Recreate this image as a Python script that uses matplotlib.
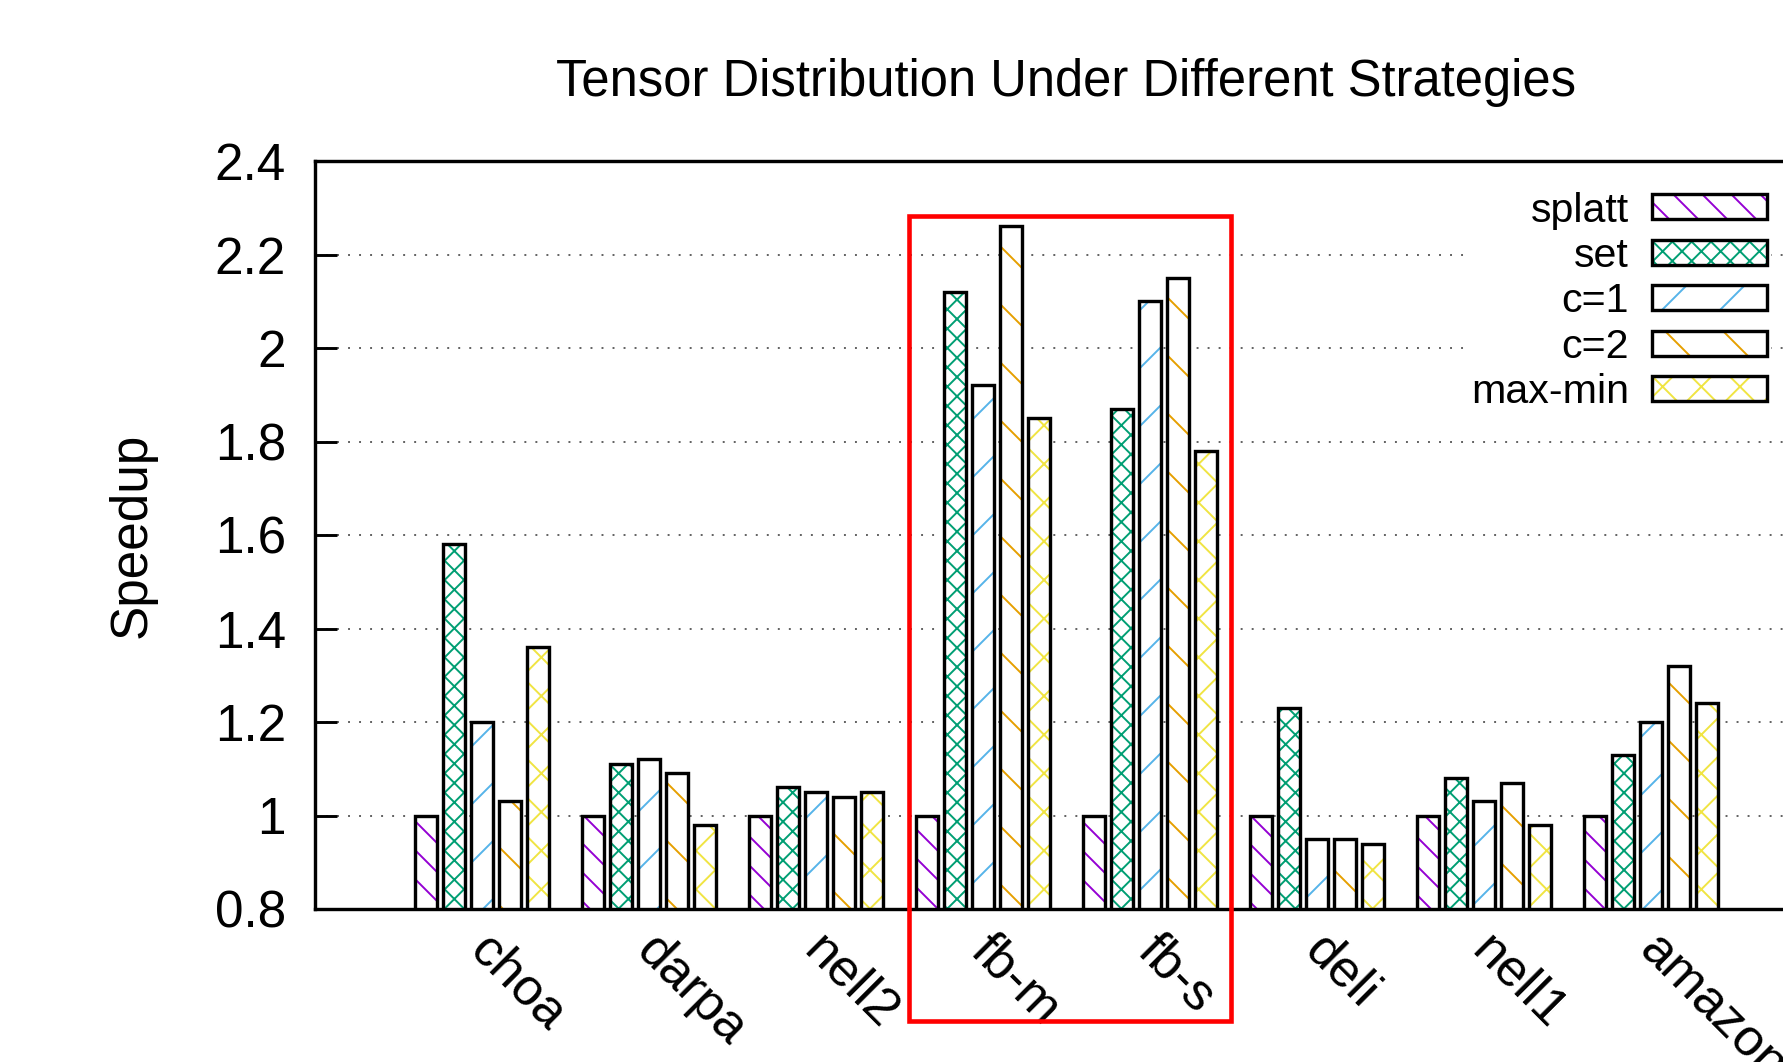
import matplotlib
matplotlib.use("Agg")
import matplotlib.pyplot as plt
import matplotlib.transforms as mtransforms
from matplotlib.patches import Rectangle
from matplotlib.legend_handler import HandlerTuple
import numpy as np

# ---- data -------------------------------------------------------------
datasets = ["choa", "darpa", "nell2", "fb-m", "fb-s", "deli", "nell1", "amazon"]
strategies = ["splatt", "set", "c=1", "c=2", "max-min"]

speedup_splatt = [1.00, 1.00, 1.00, 1.00, 1.00, 1.00, 1.00, 1.00]
speedup_set = [1.58, 1.11, 1.06, 2.12, 1.87, 1.23, 1.08, 1.13]
speedup_c1 = [1.20, 1.12, 1.05, 1.92, 2.10, 0.95, 1.03, 1.20]
speedup_c2 = [1.03, 1.09, 1.04, 2.26, 2.15, 0.95, 1.07, 1.32]
speedup_maxmin = [1.36, 0.98, 1.05, 1.85, 1.78, 0.94, 0.98, 1.24]

ytick_values = [0.8, 1.0, 1.2, 1.4, 1.6, 1.8, 2.0, 2.2, 2.4]
ytick_labels = ["0.8", "1", "1.2", "1.4", "1.6", "1.8", "2", "2.2", "2.4"]

# highlighted datasets (boxed in red)
highlight = ["fb-m", "fb-s"]

# ---- style ------------------------------------------------------------
series = [speedup_splatt, speedup_set, speedup_c1, speedup_c2, speedup_maxmin]
colors = ["#9400d3", "#009e73", "#56b4e9", "#e69f00", "#f0e442"]
hatches = ["\\\\\\\\", "xxxxxx", "//", "\\\\", "xxx"]

DPI = 348
plt.rcParams["font.family"] = ["Liberation Sans", "DejaVu Sans"]
plt.rcParams["hatch.linewidth"] = 0.4

fig = plt.figure(figsize=(1783 / DPI, 1062 / DPI), dpi=DPI)
ax = fig.add_axes([315 / 1783, 1 - 909 / 1062, 1503 / 1783, 748 / 1062])

n_series = len(series)
slot = 1.0 / (n_series + 1)
bar_w = 0.8 * slot
x = np.arange(len(datasets))

handles = []
for j, (vals, col, hat) in enumerate(zip(series, colors, hatches)):
    pos = x + (j - (n_series - 1) / 2) * slot
    ax.bar(pos, vals, width=bar_w, color="white", edgecolor=col,
           hatch=hat, linewidth=0, zorder=2)
    ax.bar(pos, vals, width=bar_w, fill=False, edgecolor="black",
           linewidth=0.7, zorder=3)
    h_fill = Rectangle((0, 0), 1, 1, facecolor="white", edgecolor=col,
                       hatch=hat, linewidth=0)
    h_edge = Rectangle((0, 0), 1, 1, fill=False, edgecolor="black",
                       linewidth=0.7)
    handles.append((h_fill, h_edge))

ax.set_xlim(-1, len(datasets))
ax.set_ylim(ytick_values[0], ytick_values[-1])
ax.set_yticks(ytick_values)
ax.set_yticklabels(ytick_labels)
ax.set_xticks(x)
ax.set_xticklabels(datasets, rotation=-45, ha="left", va="top",
                   rotation_mode="anchor", fontsize=10.8)

ax.tick_params(axis="y", direction="in", length=4.5, width=0.6,
               labelsize=10.6, pad=6.0, right=True)
ax.tick_params(axis="x", length=0, pad=3.5)
for sp in ax.spines.values():
    sp.set_linewidth(0.7)

# nudge the slanted category labels to the right
shift = mtransforms.ScaledTranslation(12.5 / DPI, 0, fig.dpi_scale_trans)
for tick in ax.xaxis.get_major_ticks():
    tick.label1.set_transform(tick.label1.get_transform() + shift)

ax.yaxis.grid(True, color="#606060", linewidth=0.4,
              linestyle=(0, (1, 4.7)), zorder=0)
ax.set_axisbelow(True)

ax.set_ylabel("Speedup", fontsize=10.6, labelpad=12)
ax.set_title("Tensor Distribution Under Different Strategies",
             fontsize=10.5, pad=13.5)

leg = ax.legend(handles, strategies,
                handler_map={tuple: HandlerTuple(ndivide=1)},
                loc="upper right", bbox_to_anchor=(0.9687, 0.9647),
                fontsize=8.5, markerfirst=False, frameon=True,
                fancybox=False, framealpha=1, edgecolor="none",
                facecolor="white", handlelength=2.8, handleheight=0.56,
                handletextpad=0.56, labelspacing=0.18, borderpad=0.1,
                borderaxespad=0)
leg.set_zorder(5)

# red box around the highlighted datasets
i0 = datasets.index(highlight[0])
i1 = datasets.index(highlight[-1])
edge_off = (n_series - 1) / 2 * slot + bar_w / 2
box_left = i0 - edge_off - 0.042
box_right = i1 + edge_off + 0.084
box_bottom, box_top = 0.56, 2.282
ax.add_patch(Rectangle((box_left, box_bottom), box_right - box_left,
                       box_top - box_bottom, fill=False, edgecolor="#ff0000",
                       linewidth=0.95, clip_on=False, zorder=6))

fig.savefig("out.png", dpi=DPI)
